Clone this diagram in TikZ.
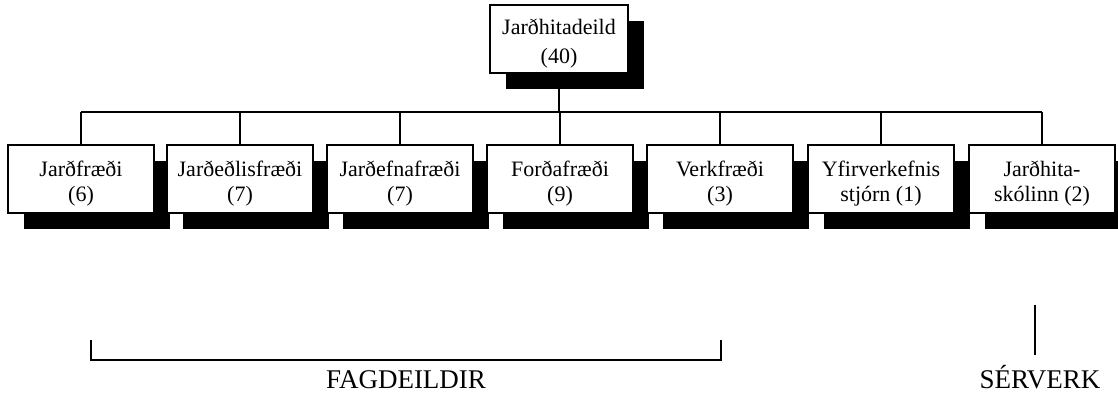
\documentclass[tikz,border=0pt]{standalone}
\usepackage{fontspec}
\setmainfont{Liberation Serif}
\usetikzlibrary{shadows}
\newcommand{\topgap}{\rule{0pt}{25pt}}
\begin{document}
\begin{tikzpicture}[x=1pt,y=-1pt,line width=1.3pt,
  unit/.style={draw,line width=1.5pt,fill=white,align=center,
    minimum width=146pt,minimum height=68pt,inner sep=2pt,
    font=\fontsize{22}{25}\selectfont,
    drop shadow={shadow xshift=16pt,shadow yshift=-16pt,opacity=1,fill=black}},
  caption/.style={anchor=base,font=\fontsize{27}{29}\selectfont}]
\useasboundingbox (0,0) rectangle (1118,394);
% head of the department
\node[unit,minimum width=138pt,font=\fontsize{22}{29}\selectfont] (top) at (559,39) {\topgap Jarðhitadeild\\(40)};
% the units below
\node[unit] (jfr) at (81,179) {\topgap Jarðfræði\\(6)};
\node[unit] (jed) at (240,179) {\topgap Jarðeðlisfræði\\(7)};
\node[unit] (jef) at (400,179) {\topgap Jarðefnafræði\\(7)};
\node[unit] (ford) at (560,179) {\topgap Forðafræði\\(9)};
\node[unit] (ver) at (720,179) {\topgap Verkfræði\\(3)};
\node[unit] (yfir) at (881,179) {\topgap Yfirverkefnis\\stjórn (1)};
\node[unit] (skoli) at (1042,179) {\topgap Jarðhita-\\skólinn (2)};
% tree lines
\coordinate (hub) at (559,112);
\draw (top.south) -- (hub);
\draw (jfr.north |- hub) -- (skoli.north |- hub);
\foreach \n in {jfr,jed,jef,ford,ver,yfir,skoli}
  \draw (\n.north) -- (\n.north |- hub);
% groups
\node[caption] (fag) at (406,388) {FAGDEILDIR};
\draw (91,340) -- (91,360) -- (721,360) -- (721,340);
\node[caption] (ser) at (1040,388) {SÉRVERK};
\draw (1035,305) -- (1035,355);
\end{tikzpicture}
\end{document}
